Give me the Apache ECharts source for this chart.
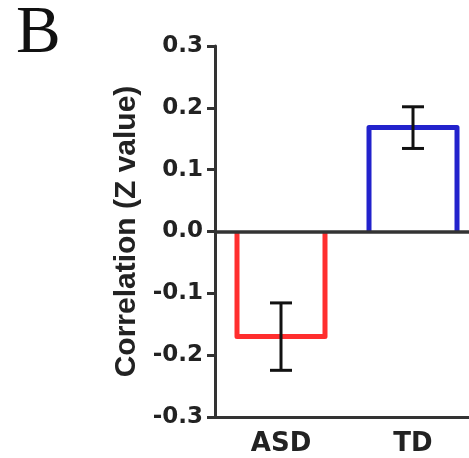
<!DOCTYPE html>
<html>
<head>
<meta charset="utf-8">
<script src="https://cdn.jsdelivr.net/npm/echarts@6/dist/echarts.min.js"></script>
<style>html,body{margin:0;padding:0;background:#fff;}#c{width:469px;height:458px;}</style>
</head>
<body>
<div id="c"></div>
<script>
var categories = ['ASD', 'TD'];
var means = [-0.170, 0.168];
var errors = [0.0545, 0.0337];
var barColors = ['#ff2e2e', '#2222cc'];
var yTicks = [-0.3, -0.2, -0.1, 0.0, 0.1, 0.2, 0.3];

var chart = echarts.init(document.getElementById('c'), null, {renderer: 'canvas'});
var barData = means.map(function (m, i) { return [i, m]; });
var errData = means.map(function (m, i) { return [i, m - errors[i], m + errors[i]]; });

chart.setOption({
  animation: false,
  backgroundColor: '#ffffff',
  graphic: [{
    type: 'text', left: 16, top: 1,
    style: {text: 'B', font: 'normal 67px "Liberation Serif"', fill: '#111'}
  }],
  grid: {left: 215, top: 46, right: 0, height: 371},
  xAxis: {
    type: 'value', min: -0.5, max: 1.4242,
    splitLine: {show: false},
    axisLine: {onZero: false, lineStyle: {color: '#333', width: 3}},
    axisTick: {show: false},
    axisLabel: {
      customValues: [0, 1], margin: 14, color: '#222',
      fontFamily: 'DejaVu Sans', fontWeight: 'bold', fontSize: 26,
      formatter: function (v) { return categories[Math.round(v)] || ''; }
    }
  },
  yAxis: {
    type: 'value', min: -0.3, max: 0.3, interval: 0.1,
    name: 'Correlation (Z value)', nameLocation: 'middle', nameGap: 71, nameRotate: 90,
    nameTextStyle: {color: '#222', fontFamily: 'Liberation Sans', fontWeight: 'bold', fontSize: 30},
    splitLine: {show: false},
    axisLine: {show: true, onZero: false, lineStyle: {color: '#333', width: 3}},
    axisTick: {show: true, length: 8, lineStyle: {color: '#333', width: 3}},
    axisLabel: {margin: 12, color: '#222', fontFamily: 'DejaVu Sans', fontWeight: 'bold', fontSize: 23,
      formatter: function (v) { return v.toFixed(1); }}
  },
  series: [{
    type: 'custom', z: 2,
    data: barData,
    renderItem: function (params, api) {
      var i = api.value(0);
      var c0 = api.coord([i, 0]);
      var c1 = api.coord([i, api.value(1)]);
      var hw = 44;
      return {type: 'polyline', shape: {points: [
        [c0[0] - hw, c0[1]], [c0[0] - hw, c1[1]], [c0[0] + hw, c1[1]], [c0[0] + hw, c0[1]]
      ]}, style: {stroke: barColors[params.dataIndex], lineWidth: 5, fill: null, lineJoin: 'round'}};
    }
  }, {
    type: 'custom', z: 5,
    data: errData,
    renderItem: function (params, api) {
      var x = api.value(0);
      var lo = api.coord([x, api.value(1)]);
      var hi = api.coord([x, api.value(2)]);
      var hw = 11;
      var st = {stroke: '#111', lineWidth: 3};
      return {type: 'group', children: [
        {type: 'line', shape: {x1: lo[0], y1: lo[1], x2: hi[0], y2: hi[1]}, style: st},
        {type: 'line', shape: {x1: lo[0] - hw, y1: lo[1], x2: lo[0] + hw, y2: lo[1]}, style: st},
        {type: 'line', shape: {x1: hi[0] - hw, y1: hi[1], x2: hi[0] + hw, y2: hi[1]}, style: st}
      ]};
    },
    markLine: {
      silent: true, symbol: ['none', 'none'], label: {show: false},
      lineStyle: {color: '#333', width: 3.5, type: 'solid'},
      data: [{yAxis: 0}]
    }
  }]
});
</script>
</body>
</html>
